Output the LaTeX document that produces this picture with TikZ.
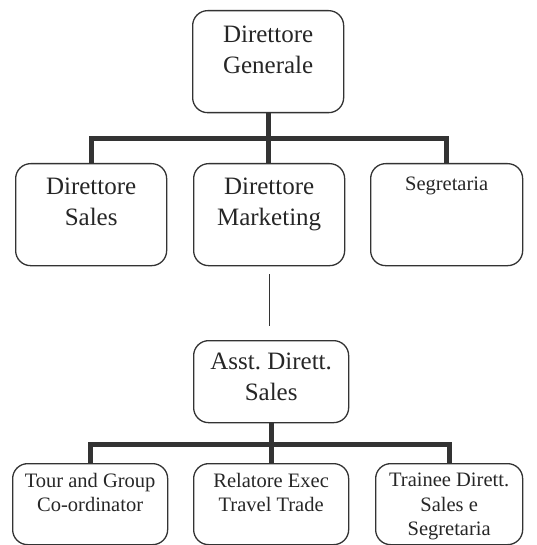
\documentclass[tikz,border=0pt]{standalone}
\usepackage{fontspec}
\setmainfont{Liberation Serif}
\frenchspacing
\begin{document}
\begin{tikzpicture}[x=1bp,y=-1bp,
  box/.style={draw=black!80, line width=1.3bp, rounded corners=15bp, inner sep=0pt, anchor=north west},
  bigtxt/.style={anchor=north, inner sep=0pt, align=center, text=black!85, font=\fontsize{25bp}{31bp}\selectfont\frenchspacing},
  smalltxt/.style={anchor=north, inner sep=0pt, align=center, text=black!85, font=\fontsize{20.5bp}{24.5bp}\selectfont\frenchspacing},
  thick link/.style={draw=black!80, line width=5bp},
  thin link/.style={draw=black!80, line width=1.1bp}]
\useasboundingbox (0,0) rectangle (537,545);
% boxes
\node[box, minimum width=151bp, minimum height=102bp] (dg) at (192,10) {};
\node[box, minimum width=151bp, minimum height=102bp] (ds) at (15,163) {};
\node[box, minimum width=151bp, minimum height=102bp] (dm) at (193,163) {};
\node[box, minimum width=152bp, minimum height=102bp] (sg) at (370,163) {};
\node[box, minimum width=155bp, minimum height=82bp] (as) at (193,340) {};
\node[box, minimum width=155bp, minimum height=81bp] (tg) at (12,463) {};
\node[box, minimum width=155bp, minimum height=81bp] (re) at (193,463) {};
\node[box, minimum width=147bp, minimum height=81bp] (tr) at (375,463) {};
% texts
\node[bigtxt] (tdg) at ([yshift=-16bp]dg.north) {Direttore\\Generale};
\node[bigtxt] (tds) at ([yshift=-15bp]ds.north) {Direttore\\Sales};
\node[bigtxt] (tdm) at ([yshift=-15bp]dm.north) {Direttore\\Marketing};
\node[smalltxt] (tsg) at ([yshift=-14bp]sg.north) {Segretaria};
\node[bigtxt] (tas) at ([yshift=-13bp]as.north) {Asst. Dirett.\\Sales};
\node[smalltxt] (ttg) at ([yshift=-10bp]tg.north) {Tour and Group\\Co-ordinator};
\node[smalltxt] (tre) at ([yshift=-10bp]re.north) {Relatore Exec\\Travel Trade};
\node[smalltxt] (ttr) at ([yshift=-10bp]tr.north) {Trainee Dirett.\\Sales e\\Segretaria};
% connectors
\coordinate (j1) at ([yshift=-25bp]dg.south);
\draw[thick link] (dg.south) -- (j1) -| (ds.north);
\draw[thick link] (j1) -| (sg.north);
\draw[thick link] (j1) -- (j1 |- dm.north);
\coordinate (m1) at ([yshift=-8bp]dm.south);
\coordinate (m2) at ([yshift=14bp]as.north);
\draw[thin link] (m1) -- (m1 |- m2);
\coordinate (j2) at ([yshift=-21bp]as.south);
\draw[thick link] (as.south) -- (j2) -| (tg.north);
\draw[thick link] (j2) -| (tr.north);
\draw[thick link] (j2) -- (j2 |- re.north);
\end{tikzpicture}
\end{document}
